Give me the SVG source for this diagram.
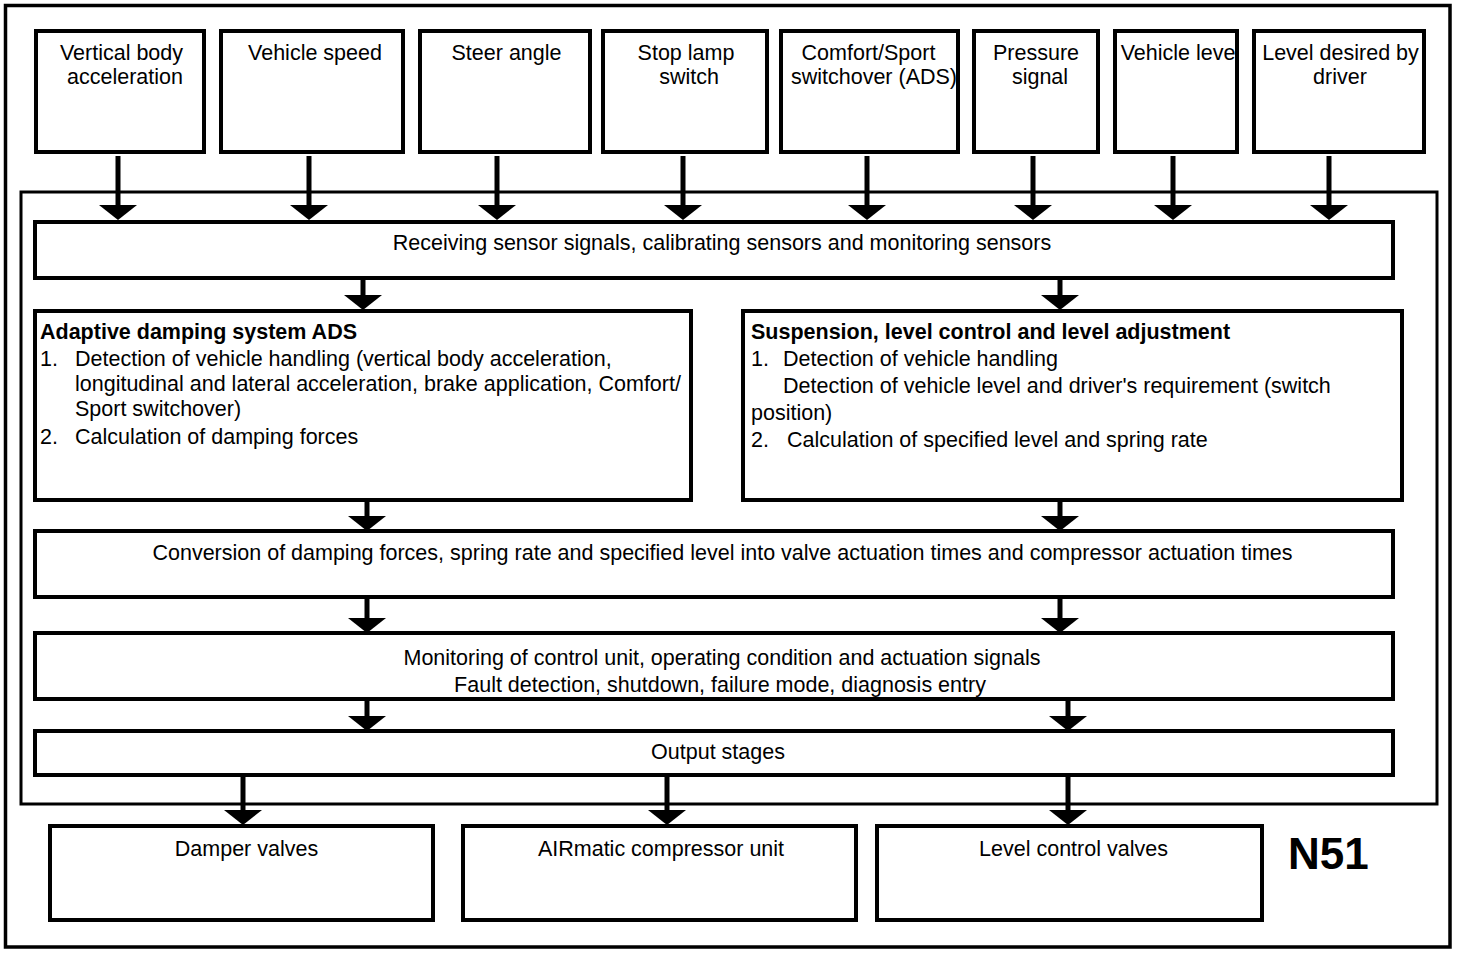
<svg xmlns="http://www.w3.org/2000/svg" width="1472" height="958" viewBox="0 0 1472 958">
<defs>
<marker id="ah" viewBox="0 -19 15 38" refX="0" refY="0" markerWidth="15" markerHeight="38" markerUnits="userSpaceOnUse" orient="auto">
<path d="M0,-19 L15,0 L0,19 z" fill="#000"/>
</marker>
<style>
.box{fill:#fff;stroke:#000;stroke-width:4}
.frame{fill:none;stroke:#000;stroke-width:3.5}
.inner{fill:none;stroke:#000;stroke-width:3}
text{font-family:"Liberation Sans",Arial,sans-serif;font-size:21.5px;fill:#000}
.c{text-anchor:middle}
.b{font-weight:bold}
.con line{stroke:#000;stroke-width:5;marker-end:url(#ah)}
</style>
</defs>
<rect width="1472" height="958" fill="#fff"/>
<rect class="frame" x="5.5" y="5.5" width="1444.5" height="941.5"/>
<rect class="inner" x="21" y="192" width="1416" height="612"/>

<g id="s1"><rect class="box" x="36" y="31" width="168" height="121"/><text class="c" x="121.5" y="60">Vertical body</text><text class="c" x="125" y="84">acceleration</text></g>
<g id="s2"><rect class="box" x="221" y="31" width="182" height="121"/><text class="c" x="315" y="60">Vehicle speed</text></g>
<g id="s3"><rect class="box" x="420" y="31" width="170" height="121"/><text class="c" x="506.5" y="60">Steer angle</text></g>
<g id="s4"><rect class="box" x="603" y="31" width="164" height="121"/><text class="c" x="686" y="60">Stop lamp</text><text class="c" x="689" y="84">switch</text></g>
<g id="s5"><rect class="box" x="781" y="31" width="177" height="121"/><text class="c" x="868.5" y="60">Comfort/Sport</text><text class="c" x="874" y="84">switchover (ADS)</text></g>
<g id="s6"><rect class="box" x="974" y="31" width="124" height="121"/><text class="c" x="1036" y="60">Pressure</text><text class="c" x="1040" y="84">signal</text></g>
<g id="s7"><rect class="box" x="1115" y="31" width="122" height="121"/><text class="c" x="1178" y="60">Vehicle leve</text></g>
<g id="s8"><rect class="box" x="1254" y="31" width="170" height="121"/><text class="c" x="1340.5" y="60">Level desired by</text><text class="c" x="1340" y="84">driver</text></g>

<g id="receiving"><rect class="box" x="35" y="222" width="1358" height="56"/><text class="c" x="722" y="250">Receiving sensor signals, calibrating sensors and monitoring sensors</text></g>

<g id="ads"><rect class="box" x="35" y="311" width="656" height="189"/>
<text class="b" x="40" y="339">Adaptive damping system ADS</text>
<text x="40" y="366">1.</text><text x="75" y="366">Detection of vehicle handling (vertical body acceleration,</text>
<text x="75" y="391">longitudinal and lateral acceleration, brake application, Comfort/</text>
<text x="75" y="416">Sport switchover)</text>
<text x="40" y="444">2.</text><text x="75" y="444">Calculation of damping forces</text>
</g>

<g id="susp"><rect class="box" x="743" y="311" width="659" height="189"/>
<text class="b" x="751" y="339">Suspension, level control and level adjustment</text>
<text x="751" y="366">1.</text><text x="783" y="366">Detection of vehicle handling</text>
<text x="783" y="393">Detection of vehicle level and driver's requirement (switch</text>
<text x="751" y="420">position)</text>
<text x="751" y="447">2.</text><text x="787" y="447">Calculation of specified level and spring rate</text>
</g>

<g id="conversion"><rect class="box" x="35" y="531" width="1358" height="66"/><text class="c" x="722.5" y="560">Conversion of damping forces, spring rate and specified level into valve actuation times and compressor actuation times</text></g>

<g id="monitoring"><rect class="box" x="35" y="633" width="1358" height="66"/><text class="c" x="722" y="665">Monitoring of control unit, operating condition and actuation signals</text><text class="c" x="720" y="692">Fault detection, shutdown, failure mode, diagnosis entry</text></g>

<g id="output"><rect class="box" x="35" y="731" width="1358" height="44"/><text class="c" x="718" y="759">Output stages</text></g>

<g id="damper"><rect class="box" x="50" y="826" width="383" height="94"/><text class="c" x="246.5" y="856">Damper valves</text></g>
<g id="airmatic"><rect class="box" x="463" y="826" width="393" height="94"/><text class="c" x="661" y="856">AIRmatic compressor unit</text></g>
<g id="levelvalves"><rect class="box" x="877" y="826" width="385" height="94"/><text class="c" x="1073.5" y="856">Level control valves</text></g>

<g id="n51"><text class="b" x="1288" y="869" style="font-size:44px">N51</text></g>

<g class="con" id="connectors">
<line x1="118" y1="156" x2="118" y2="205"/>
<line x1="309" y1="156" x2="309" y2="205"/>
<line x1="497" y1="156" x2="497" y2="205"/>
<line x1="683" y1="156" x2="683" y2="205"/>
<line x1="867" y1="156" x2="867" y2="205"/>
<line x1="1033" y1="156" x2="1033" y2="205"/>
<line x1="1173" y1="156" x2="1173" y2="205"/>
<line x1="1329" y1="156" x2="1329" y2="205"/>
<line x1="363" y1="280" x2="363" y2="295"/>
<line x1="1060" y1="280" x2="1060" y2="295"/>
<line x1="367" y1="502" x2="367" y2="516"/>
<line x1="1060" y1="502" x2="1060" y2="516"/>
<line x1="367" y1="599" x2="367" y2="618"/>
<line x1="1060" y1="599" x2="1060" y2="618"/>
<line x1="367" y1="701" x2="367" y2="716"/>
<line x1="1068" y1="701" x2="1068" y2="716"/>
<line x1="243" y1="777" x2="243" y2="810"/>
<line x1="667" y1="777" x2="667" y2="810"/>
<line x1="1068" y1="777" x2="1068" y2="810"/>
</g>
</svg>
